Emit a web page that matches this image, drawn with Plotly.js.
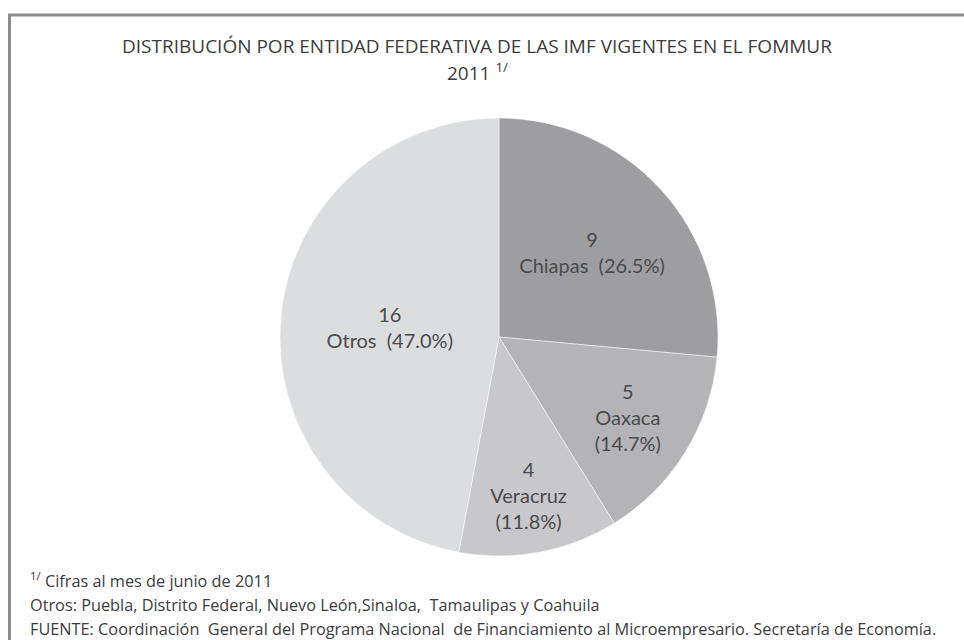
<!DOCTYPE html>
<html>
<head>
<meta charset="utf-8">
<script src="https://cdn.plot.ly/plotly-3.0.1.min.js"></script>
<style>
html,body{margin:0;padding:0;background:#fff;}
#chart{width:964px;height:640px;}
</style>
</head>
<body>
<div id="chart"></div>
<script>
// Data
const categories = ["Chiapas", "Oaxaca", "Veracruz", "Otros"];
const values = [9, 5, 4, 16];
const percentLabels = ["26.5%", "14.7%", "11.8%", "47.0%"];
const sliceColors = ["#9e9ea1", "#b4b4b6", "#c8c8ca", "#dcdddf"];

const titleLine1 = "DISTRIBUCIÓN POR ENTIDAD FEDERATIVA DE LAS IMF VIGENTES EN EL FOMMUR";
const titleLine2 = "2011 <sup>1/</sup>";
const footnotes = [
  "<sup>1/</sup> Cifras al mes de junio de 2011",
  "Otros: Puebla, Distrito Federal, Nuevo León,Sinaloa,  Tamaulipas y Coahuila",
  "FUENTE: Coordinación  General del Programa Nacional  de Financiamiento al Microempresario. Secretaría de Economía."
];

// label text layout (short names on one line with the percent, longer ones split)
const labelTexts = categories.map((c, i) => {
  const sep = (i === 1 || i === 2) ? "<br>" : "  ";
  return values[i] + "<br>" + c + sep + "(" + percentLabels[i] + ")";
});

const W = 964, H = 640;
const px = x => x / W;
const py = y => 1 - y / H;

const trace = {
  type: "pie",
  labels: categories,
  values: values,
  text: labelTexts,
  textinfo: "text",
  textposition: "inside",
  insidetextorientation: "horizontal",
  sort: false,
  direction: "clockwise",
  rotation: 0,
  marker: { colors: sliceColors, line: { color: "#ffffff", width: 0.5 } },
  textfont: { family: "Lato, 'Open Sans', sans-serif", size: 20, color: "#4a4a4c" },
  domain: { x: [px(280), px(718)], y: [py(556), py(118)] },
  showlegend: false,
  hoverinfo: "label+value+percent"
};

const annFont = { family: "'Open Sans', sans-serif", color: "#3c3c3c" };

const annotations = [
  { text: titleLine1, x: px(477), y: py(46), xref: "paper", yref: "paper", showarrow: false,
    xanchor: "center", yanchor: "middle", font: Object.assign({ size: 19 }, annFont) },
  { text: titleLine2, x: px(477), y: py(72), xref: "paper", yref: "paper", showarrow: false,
    xanchor: "center", yanchor: "middle", font: Object.assign({ size: 19 }, annFont) }
];
const footY = [580, 605, 629];
footnotes.forEach((t, i) => annotations.push({
  text: t, x: px(28), y: py(footY[i]), xref: "paper", yref: "paper", showarrow: false,
  xanchor: "left", yanchor: "middle", font: Object.assign({ size: 16.3 }, annFont)
}));

const layout = {
  width: W, height: H,
  margin: { l: 0, r: 0, t: 0, b: 0 },
  paper_bgcolor: "#ffffff",
  showlegend: false,
  annotations: annotations,
  shapes: [
    { type: "line", xref: "paper", yref: "paper", x0: px(9.5), y0: py(640), x1: px(9.5), y1: py(15),
      line: { color: "#8c8c8c", width: 3 } },
    { type: "line", xref: "paper", yref: "paper", x0: px(8), y0: py(15), x1: px(964), y1: py(15),
      line: { color: "#8c8c8c", width: 3 } }
  ]
};

Plotly.newPlot("chart", [trace], layout, { displayModeBar: false, staticPlot: true });
</script>
</body>
</html>
